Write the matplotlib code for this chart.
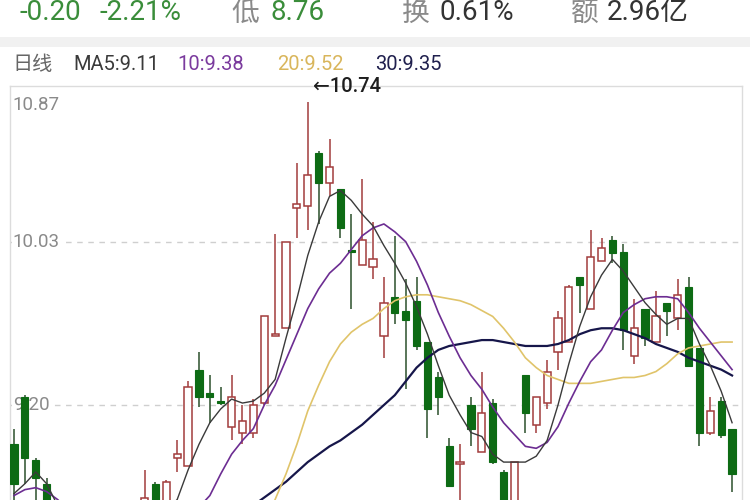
import matplotlib
matplotlib.use('Agg')
import matplotlib.pyplot as plt
from matplotlib.patches import Rectangle

plt.rcParams['font.family'] = ['Roboto', 'DejaVu Sans', 'Noto Sans CJK SC']

# ---------------- data ----------------
opens = [9.00, 9.24, 8.92, 8.80, 8.68, 8.58, 8.52, 8.60, 8.53, 8.58,
         8.66, 8.60, 8.69, 8.80, 8.68, 8.93, 8.89, 9.38, 9.26, 9.22,
         9.09, 9.06, 9.06, 9.21, 9.55, 9.59, 10.20, 10.21, 10.48, 10.33,
         10.30, 9.99, 9.91, 9.90, 9.55, 9.75, 9.68, 9.73, 9.52, 9.34,
         8.99, 8.90, 9.20, 8.96, 9.21, 8.86, 8.69, 9.35, 9.10, 9.21,
         9.47, 9.52, 9.85, 9.69, 9.93, 10.04, 9.98, 9.45, 9.69, 9.52,
         9.72, 9.64, 9.80, 9.49, 9.06, 9.22, 9.08]
highs = [9.08, 9.25, 8.93, 8.83, 8.70, 8.62, 8.63, 8.66, 8.62, 8.68,
         8.69, 8.70, 8.87, 8.81, 8.82, 9.02, 9.32, 9.47, 9.35, 9.29,
         9.35, 9.20, 9.23, 9.65, 10.07, 10.03, 10.43, 10.74, 10.49, 10.55,
         10.30, 10.17, 10.35, 10.13, 9.85, 10.06, 9.84, 9.85, 9.52, 9.37,
         9.03, 9.00, 9.24, 9.37, 9.23, 8.87, 8.91, 9.35, 9.24, 9.43,
         9.68, 9.81, 9.85, 10.09, 10.05, 10.06, 10.02, 9.74, 9.69, 9.78,
         9.72, 9.84, 9.85, 9.49, 9.24, 9.24, 9.08]
lows = [8.66, 8.80, 8.69, 8.64, 8.55, 8.48, 8.50, 8.50, 8.47, 8.55,
        8.56, 8.57, 8.66, 8.62, 8.64, 8.86, 8.89, 9.19, 9.11, 9.20,
        9.02, 9.00, 9.03, 9.20, 9.55, 9.59, 10.05, 10.09, 10.12, 10.26,
        10.05, 9.69, 9.91, 9.84, 9.44, 9.61, 9.28, 9.48, 9.03, 9.15,
        8.79, 8.65, 8.99, 8.96, 8.90, 8.65, 8.65, 9.06, 9.06, 9.18,
        9.38, 9.52, 9.67, 9.69, 9.93, 9.92, 9.48, 9.41, 9.50, 9.52,
        9.55, 9.58, 9.40, 8.99, 9.05, 9.03, 8.76]
closes = [8.80, 8.93, 8.83, 8.70, 8.58, 8.52, 8.60, 8.53, 8.58, 8.65,
          8.60, 8.67, 8.73, 8.65, 8.81, 8.95, 9.29, 9.24, 9.24, 9.21,
          9.24, 9.12, 9.20, 9.65, 9.56, 10.03, 10.22, 10.37, 10.33, 10.41,
          10.10, 9.98, 10.04, 9.94, 9.72, 9.67, 9.63, 9.50, 9.18, 9.24,
          8.79, 8.91, 9.08, 9.16, 8.91, 8.68, 8.91, 9.16, 9.24, 9.37,
          9.64, 9.80, 9.81, 9.95, 10.00, 9.97, 9.58, 9.59, 9.54, 9.65,
          9.68, 9.76, 9.40, 9.06, 9.17, 9.05, 8.85]

ma5 = [8.75, 8.80, 8.86, 8.80, 8.69, 8.62, 8.57, 8.54, 8.54, 8.56,
       8.57, 8.57, 8.58, 8.61, 8.66, 8.72, 8.87, 9.00, 9.11, 9.18,
       9.23, 9.21, 9.22, 9.26, 9.33, 9.54, 9.74, 9.96, 10.13, 10.26,
       10.29, 10.24, 10.17, 10.11, 10.01, 9.92, 9.82, 9.70, 9.56, 9.40,
       9.25, 9.15, 9.06, 9.04, 8.95, 8.91, 8.91, 8.91, 8.94, 9.02,
       9.20, 9.41, 9.60, 9.75, 9.86, 9.94, 9.88, 9.80, 9.72, 9.66,
       9.61, 9.64, 9.64, 9.51, 9.40, 9.27, 9.11]
ma10 = [8.74, 8.77, 8.78, 8.76, 8.72, 8.67, 8.63, 8.59, 8.57, 8.55,
        8.54, 8.54, 8.55, 8.57, 8.58, 8.61, 8.64, 8.68, 8.74, 8.85,
        8.95, 9.02, 9.08, 9.20, 9.30, 9.43, 9.56, 9.69, 9.79, 9.87,
        9.92, 9.99, 10.06, 10.10, 10.12, 10.08, 10.03, 9.93, 9.81, 9.67,
        9.55, 9.44, 9.35, 9.28, 9.19, 9.11, 9.05, 8.99, 8.98, 9.01,
        9.09, 9.21, 9.32, 9.42, 9.48, 9.58, 9.67, 9.71, 9.74, 9.75,
        9.75, 9.74, 9.67, 9.59, 9.52, 9.45, 9.38]
ma20 = [8.62, 8.61, 8.60, 8.58, 8.56, 8.54, 8.52, 8.50, 8.48, 8.46,
        8.45, 8.44, 8.43, 8.42, 8.42, 8.42, 8.42, 8.42, 8.43, 8.44,
        8.45, 8.47, 8.52, 8.60, 8.72, 8.85, 9.00, 9.17, 9.30, 9.42,
        9.51, 9.57, 9.61, 9.64, 9.69, 9.73, 9.75, 9.76, 9.76, 9.75,
        9.74, 9.73, 9.71, 9.68, 9.65, 9.59, 9.52, 9.44, 9.39, 9.35,
        9.33, 9.31, 9.31, 9.31, 9.32, 9.33, 9.34, 9.34, 9.35, 9.37,
        9.41, 9.46, 9.49, 9.50, 9.51, 9.52, 9.52]
ma30 = [8.60, 8.59, 8.58, 8.57, 8.56, 8.55, 8.54, 8.53, 8.52, 8.52,
        8.52, 8.52, 8.53, 8.54, 8.55, 8.56, 8.57, 8.58, 8.60, 8.61,
        8.63, 8.65, 8.69, 8.73, 8.77, 8.81, 8.86, 8.91, 8.95, 8.99,
        9.02, 9.06, 9.10, 9.15, 9.20, 9.25, 9.32, 9.39, 9.44, 9.48,
        9.50, 9.51, 9.52, 9.53, 9.53, 9.52, 9.51, 9.50, 9.50, 9.50,
        9.51, 9.53, 9.56, 9.58, 9.59, 9.59, 9.58, 9.56, 9.54, 9.51,
        9.49, 9.47, 9.44, 9.42, 9.40, 9.38, 9.35]

grid_levels = [10.87, 10.03, 9.20]
grid_labels = ['10.87', '10.03', '9.20']
peak_label = '\u219010.74'
peak_value = 10.74
peak_index = 27

header_items = [('-0.20', '#3a8d3a'), ('-2.21%', '#3a8d3a'), ('低', '#8a8a8a'), ('8.76', '#3a8d3a'),
                ('换', '#8a8a8a'), ('0.61%', '#333333'), ('额', '#8a8a8a'), ('2.96亿', '#333333')]
legend_items = [('日线', '#666666'), ('MA5:9.11', '#3a3a3a'), ('10:9.38', '#7b3b9e'),
                ('20:9.52', '#d9b65c'), ('30:9.35', '#20204e')]

# ---------------- styles ----------------
RED = '#a23c3c'
GREEN = '#0d6b14'
GREEN_WICK = '#2b4f2b'
MA_COLORS = ['#3a3a3a', '#6c2d92', '#e0c46a', '#16164a']
MA_WIDTHS = [1.0, 1.2, 1.2, 1.6]

W, H = 750, 500
fig = plt.figure(figsize=(7.5, 5), dpi=100)
fig.patch.set_facecolor('white')

def fx(px):
    return px / W

def fy(py):
    return 1 - py / H

# separator band
fig.patches.append(Rectangle((0, fy(47)), 1, (47 - 37) / H, transform=fig.transFigure,
                             facecolor='#f1f1f1', edgecolor='none', zorder=0))

# header row
header_x = [20, 99, 231, 271, 402, 439, 571, 607]
for (txt, col), x in zip(header_items, header_x):
    fig.text(fx(x), fy(13), txt, color=col, fontsize=20, ha='left', va='center')

legend_x = [12, 73, 177, 277, 375]
for (txt, col), x in zip(legend_items, legend_x):
    fig.text(fx(x), fy(65), txt, color=col, fontsize=14.5, ha='left', va='center')

# main axes
top_px, bot_px, left_px, right_px = 86, 500, 10, 742
ax = fig.add_axes([fx(left_px), 0, (right_px - left_px) / W, (bot_px - top_px) / H])
ax.set_facecolor('white')

def val(py):
    return 11.258 - py / 196.8

ax.set_ylim(val(bot_px), val(top_px))
x0, step = 14, 10.88
ax.set_xlim((left_px - x0) / step, (right_px - x0) / step)
ax.set_xticks([])
ax.set_yticks([])
ax.spines['bottom'].set_visible(False)
for s in ['left', 'right', 'top']:
    ax.spines[s].set_color('#dcdcdc')
    ax.spines[s].set_linewidth(1.0)

# dashed grid lines
for lv in grid_levels[1:]:
    ax.axhline(lv, color='#cfcfcf', lw=1.0, ls=(0, (4, 4)), zorder=1)

# price labels
ax.text(0.003, 0.975, grid_labels[0], transform=ax.transAxes, color='#8a8a8a', fontsize=13.5,
        ha='left', va='top', zorder=1.5)
for lv, lb in zip(grid_levels[1:], grid_labels[1:]):
    ax.text(-0.1, lv, lb, color='#8a8a8a', fontsize=13.5, ha='left', va='center', zorder=1.5,
            bbox=dict(facecolor='white', edgecolor='none', pad=1))

# candles
for i in range(len(opens)):
    o, h, l, c = opens[i], highs[i], lows[i], closes[i]
    if c >= o:
        ax.vlines(i, l, h, color=RED, lw=1.1, zorder=2)
        ax.bar(i, max(c - o, 0.004), bottom=o, width=0.66, facecolor='white',
               edgecolor=RED, linewidth=1.1, zorder=3)
    else:
        ax.vlines(i, l, h, color=GREEN_WICK, lw=1.1, zorder=2)
        ax.bar(i, max(o - c, 0.004), bottom=c, width=0.66, facecolor=GREEN,
               edgecolor=GREEN, linewidth=0.8, zorder=3)

# moving averages
xs = list(range(len(opens)))
for ser, col, lw in zip([ma30, ma20, ma10, ma5], MA_COLORS[::-1], MA_WIDTHS[::-1]):
    ax.plot(xs, ser, color=col, lw=lw, zorder=4, solid_joinstyle='round')

# peak annotation
ax.text(peak_index + 0.45, peak_value + 0.08, peak_label, color='#1e1e1e', fontsize=14.5,
        fontweight='medium', ha='left', va='center', zorder=5)

fig.savefig('out.png', dpi=100, facecolor='white')
